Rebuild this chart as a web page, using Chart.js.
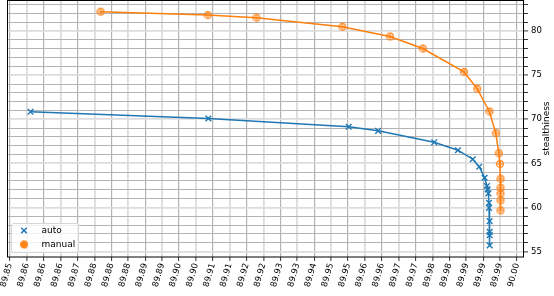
<!DOCTYPE html>
<html><head><meta charset="utf-8">
<script src="https://cdn.jsdelivr.net/npm/chart.js@4.4.0/dist/chart.umd.min.js"></script>
<style>html,body{margin:0;padding:0;background:#fff;} #wrap{width:554px;height:296px;}</style>
</head><body><div id="wrap"><canvas id="c" width="554" height="296"></canvas></div>
<script>
// ---- data ----
const seriesNames = ['auto', 'manual'];
const autoX = [89.8561, 89.9087, 89.9502, 89.9589, 89.9755, 89.9825, 89.9869, 89.9888, 89.9904, 89.9911, 89.9913, 89.9915, 89.9917, 89.9917, 89.9919, 89.9919, 89.9919, 89.9919];
const autoY = [70.85, 70.09, 69.15, 68.69, 67.40, 66.49, 65.47, 64.62, 63.37, 62.43, 62.05, 61.59, 60.52, 59.95, 58.44, 57.22, 56.85, 55.70];
const manualX = [89.8768, 89.9085, 89.9229, 89.9483, 89.9624, 89.9721, 89.9843, 89.9882, 89.9918, 89.9937, 89.9946, 89.9949, 89.9951, 89.9951, 89.9951, 89.9951, 89.9951];
const manualY = [82.21, 81.82, 81.53, 80.50, 79.40, 78.03, 75.38, 73.47, 70.89, 68.43, 66.15, 64.93, 63.26, 62.23, 61.59, 60.80, 59.66];
const xTickValues = [89.850, 89.855, 89.860, 89.865, 89.870, 89.875, 89.880, 89.885, 89.890, 89.895, 89.900, 89.905, 89.910, 89.915, 89.920, 89.925, 89.930, 89.935, 89.940, 89.945, 89.950, 89.955, 89.960, 89.965, 89.970, 89.975, 89.980, 89.985, 89.990, 89.995, 90.000];
const xTickLabels = ['89.85', '89.86', '89.86', '89.86', '89.87', '89.88', '89.88', '89.88', '89.89', '89.89', '89.90', '89.90', '89.91', '89.91', '89.92', '89.92', '89.93', '89.93', '89.94', '89.95', '89.95', '89.96', '89.96', '89.97', '89.97', '89.98', '89.98', '89.99', '89.99', '89.99', '90.00'];
const yTickValues = [55, 56, 57, 58, 59, 60, 61, 62, 63, 64, 65, 66, 67, 68, 69, 70, 71, 72, 73, 74, 75, 76, 77, 78, 79, 80, 81, 82, 83];
const yMajorTicks = [55, 60, 65, 70, 75, 80];
const yTitle = 'stealthiness';

// ---- helpers ----
const BLUE = '#1f77b4', ORANGE = '#ff7f0e';
const FONT = '"DejaVu Sans", sans-serif';
function pts(xs, ys) { return xs.map((x, i) => ({ x: x, y: ys[i] })); }
function range(arr) {
  const lo = Math.min(...arr), hi = Math.max(...arr), m = (hi - lo) * 0.05;
  return [lo - m, hi + m];
}
const [xMin, xMax] = range(autoX.concat(manualX));
const [yMin, yMax] = range(autoY.concat(manualY));

function makeOrangeMarker() {
  const c = document.createElement('canvas');
  c.width = 10; c.height = 10;
  const g = c.getContext('2d');
  g.strokeStyle = ORANGE; g.lineWidth = 1.1;
  g.fillStyle = 'rgba(255,127,14,0.12)';
  g.beginPath(); g.arc(5, 5, 3.4, 0, Math.PI * 2); g.fill(); g.stroke();
  g.beginPath(); g.moveTo(5, 2.2); g.lineTo(5, 7.8); g.moveTo(2.2, 5); g.lineTo(7.8, 5); g.stroke();
  return c;
}
const orangeMarker = makeOrangeMarker();

const isMult = (v, step) => Math.abs(v / step - Math.round(v / step)) < 1e-6;

const framePlugin = {
  id: 'frame',
  afterDraw(chart) {
    const ctx = chart.ctx, a = chart.chartArea;
    ctx.save();
    ctx.strokeStyle = '#000'; ctx.lineWidth = 1;
    ctx.strokeRect(a.left + 0.5, a.top + 0.5, a.right - a.left - 1, a.bottom - a.top - 0.5);
    // y title (reads bottom to top)
    ctx.fillStyle = '#000'; ctx.font = '9px ' + FONT;
    ctx.translate(547, (a.top + a.bottom) / 2);
    ctx.rotate(-Math.PI / 2);
    ctx.textAlign = 'center'; ctx.textBaseline = 'middle';
    ctx.fillText(yTitle, 0, 0);
    ctx.restore();
    // legend
    ctx.save();
    const lx = 11.5, ly = 223.5, lw = 67, lh = 29, r = 2;
    ctx.beginPath();
    ctx.moveTo(lx + r, ly); ctx.lineTo(lx + lw - r, ly); ctx.quadraticCurveTo(lx + lw, ly, lx + lw, ly + r);
    ctx.lineTo(lx + lw, ly + lh - r); ctx.quadraticCurveTo(lx + lw, ly + lh, lx + lw - r, ly + lh);
    ctx.lineTo(lx + r, ly + lh); ctx.quadraticCurveTo(lx, ly + lh, lx, ly + lh - r);
    ctx.lineTo(lx, ly + r); ctx.quadraticCurveTo(lx, ly, lx + r, ly);
    ctx.fillStyle = 'rgba(255,255,255,0.8)'; ctx.fill();
    ctx.strokeStyle = '#d6d6d6'; ctx.lineWidth = 1; ctx.stroke();
    // auto marker
    ctx.strokeStyle = BLUE; ctx.lineWidth = 1.5;
    const bx = 24, by = 230.5, d = 2.8;
    ctx.beginPath(); ctx.moveTo(bx - d, by - d); ctx.lineTo(bx + d, by + d); ctx.moveTo(bx + d, by - d); ctx.lineTo(bx - d, by + d); ctx.stroke();
    ctx.fillStyle = 'rgba(255,127,14,0.85)';
    ctx.beginPath(); ctx.arc(24, 244.5, 3.5, 0, Math.PI * 2); ctx.fill();
    ctx.drawImage(orangeMarker, 24 - 5, 244.5 - 5);
    ctx.fillStyle = '#000'; ctx.font = '9px ' + FONT; ctx.textBaseline = 'middle'; ctx.textAlign = 'left';
    ctx.fillText(seriesNames[0], 41.5, 230.5);
    ctx.fillText(seriesNames[1], 41.5, 244.5);
    ctx.restore();
  }
};

new Chart(document.getElementById('c'), {
  type: 'scatter',
  data: {
    datasets: [
      { label: seriesNames[0], data: pts(autoX, autoY), showLine: true, borderColor: BLUE, backgroundColor: BLUE,
        borderWidth: 1.5, pointStyle: 'crossRot', pointRadius: 4, pointBorderWidth: 1.4, pointHoverRadius: 4, tension: 0 },
      { label: seriesNames[1], data: pts(manualX, manualY), showLine: true, borderColor: ORANGE, backgroundColor: ORANGE,
        borderWidth: 1.5, pointStyle: orangeMarker, pointRadius: 4, tension: 0 }
    ]
  },
  options: {
    responsive: false, animation: false, devicePixelRatio: 1,
    layout: { autoPadding: false, padding: { left: 7, top: 0, right: 0, bottom: 0 } },
    plugins: { legend: { display: false }, tooltip: { enabled: false } },
    scales: {
      x: {
        type: 'linear', position: 'bottom', min: xMin, max: xMax,
        afterBuildTicks: s => { s.ticks = xTickValues.map(v => ({ value: v })); },
        afterFit: s => { s.height = 39; s.paddingLeft = 0; s.paddingRight = 0; s.paddingTop = 0; s.paddingBottom = 0; },
        ticks: { autoSkip: false, minRotation: 74, maxRotation: 74, padding: 1, color: '#000',
          font: { family: FONT, size: 8.5 }, callback: (v, i) => xTickLabels[i] },
        grid: {
          color: c => isMult(c.tick.value, 0.01) ? '#b3b3b3' : '#dcdcdc',
          lineWidth: c => isMult(c.tick.value, 0.01) ? 1.2 : 1.8,
          tickColor: '#000', tickWidth: 0.8, tickLength: 4
        },
        border: { display: false }
      },
      y: {
        type: 'linear', position: 'right', min: yMin, max: yMax,
        afterBuildTicks: s => { s.ticks = yTickValues.map(v => ({ value: v })); },
        afterFit: s => { s.width = 30; s.paddingTop = 0; s.paddingBottom = 0; s.paddingLeft = 0; s.paddingRight = 0; },
        ticks: { autoSkip: false, padding: 3, color: '#000', font: { family: FONT, size: 8.5 },
          callback: v => yMajorTicks.includes(v) ? String(v) : '' },
        grid: {
          color: c => yMajorTicks.includes(c.tick.value) ? '#dcdcdc' : '#b3b3b3',
          lineWidth: c => yMajorTicks.includes(c.tick.value) ? 1.8 : 1,
          tickColor: '#000', tickWidth: 0.8, tickLength: 4
        },
        border: { display: false }
      }
    }
  },
  plugins: [framePlugin]
});
</script></body></html>
